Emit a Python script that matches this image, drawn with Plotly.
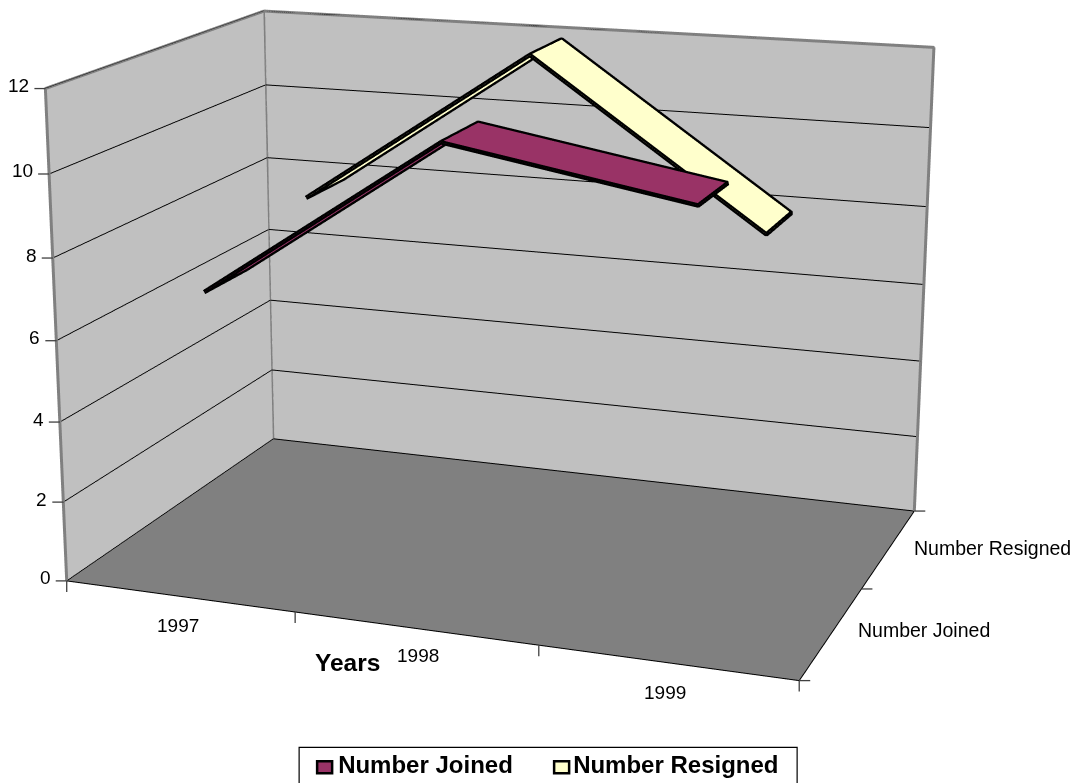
import numpy as np
import plotly.graph_objects as go

# ---------- data ----------
years = ["1997", "1998", "1999"]
series_names = ["Number Joined", "Number Resigned"]
number_joined = [7, 11, 10]
number_resigned = [8, 12, 8]
value_ticks = [0, 2, 4, 6, 8, 10, 12]
series_colors = ["#993366", "#FFFFCC"]

# ---------- camera calibration from the chart box corners ----------
WIN_W, WIN_H = 1078, 783
box_corners = {(0, 0, 0): (66, 581), (3, 0, 0): (799, 680), (3, 2, 0): (914, 511), (0, 2, 0): (274, 438),
               (0, 0, 12): (46, 88), (0, 2, 12): (263, 11), (3, 2, 12): (934, 47)}
X = np.array(list(box_corners.keys()), float) / np.array([3, 2, 12.0]) - 0.5
U = np.array(list(box_corners.values()), float)
rows = []
for (x, y, z), (u, v) in zip(X, U):
    rows.append([x, y, z, 1, 0, 0, 0, 0, -u * x, -u * y, -u * z, -u])
    rows.append([0, 0, 0, 0, x, y, z, 1, -v * x, -v * y, -v * z, -v])
P = np.linalg.svd(np.array(rows))[2][-1].reshape(3, 4)
if P[2, 3] < 0:
    P = -P
M = P[:3, :3]
a, b, c = [M[:, i][:2] / M[:, i][2] for i in range(3)]
pp = np.linalg.solve(np.array([b - c, a - c]), np.array([a @ (b - c), b @ (a - c)]))
f = np.sqrt(-(a - pp) @ (b - pp))
Kinv = np.linalg.inv(np.array([[f, 0, pp[0]], [0, f, pp[1]], [0, 0, 1]]))
C = Kinv @ M
lam = np.linalg.norm(C[:, 0])
asp = np.linalg.norm(C, axis=0) / lam
R = C / (lam * asp)
t = Kinv @ P[:, 3] / lam
eye = -R.T @ t
fwd, up = R[2], -R[1]
center = eye + fwd * t[2]

fig_h = int(round(2 * f * np.tan(np.pi / 8)))
half_w = int(np.ceil(max(pp[0], WIN_W - pp[0]))) + 10
fig_w = 2 * half_w
off_x = half_w - pp[0]
off_y = fig_h / 2 - pp[1]

def paper(u, v):
    return (u + off_x) / fig_w, 1 - (v + off_y) / fig_h

def pixel(x, y, z):
    h = P @ np.array([x / 3 - 0.5, y / 2 - 0.5, z / 12 - 0.5, 1.0])
    return h[0] / h[2], h[1] / h[2]

FONT = "Liberation Sans, Arial, sans-serif"
fig = go.Figure()

def ribbon(vals, idx, color):
    y0, y1 = idx + 0.3, idx + 0.7
    xs = [i + 0.5 for i in range(len(vals))]
    vx = xs + xs
    vy = [y0] * len(xs) + [y1] * len(xs)
    vz = list(vals) + list(vals)
    n = len(xs)
    i, j, k = [], [], []
    for q in range(n - 1):
        i += [q, q + 1]; j += [q + 1, q + 1 + n]; k += [q + n, q + n]
    fig.add_trace(go.Mesh3d(x=vx, y=vy, z=vz, i=i, j=j, k=k, color=color, opacity=1, flatshading=True,
                            lighting=dict(ambient=1, diffuse=0, specular=0, fresnel=0, roughness=1),
                            name=series_names[idx], showlegend=True, hoverinfo="skip"))
    ox, oy, oz = [], [], []
    for q in range(n - 1):
        ox += [xs[q], xs[q + 1], xs[q + 1], xs[q], xs[q], None]
        oy += [y0, y0, y1, y1, y0, None]
        oz += [vals[q], vals[q + 1], vals[q + 1], vals[q], vals[q], None]
    fig.add_trace(go.Scatter3d(x=ox, y=oy, z=oz, mode="lines", line=dict(color="black", width=9),
                               showlegend=False, hoverinfo="skip"))

nx, ny, nz = len(years), len(series_names), value_ticks[-1]
fig.add_trace(go.Scatter3d(x=[0, 0, 0, 0, None, 0, nx, nx], y=[0, 0, ny, ny, None, ny, ny, ny], z=[0, nz, nz, 0, None, nz, nz, 0],
                           mode="lines", line=dict(color="#808080", width=6), showlegend=False, hoverinfo="skip"))
fig.add_trace(go.Scatter3d(x=[0, nx, nx], y=[0, 0, ny], z=[0, 0, 0], mode="lines", line=dict(color="black", width=2),
                           showlegend=False, hoverinfo="skip"))
ribbon(number_joined, 0, series_colors[0])
ribbon(number_resigned, 1, series_colors[1])

anns = []
for v in value_ticks:
    anns.append(dict(x=0, y=0, z=v, text=str(v), showarrow=False, xanchor="right", xshift=-14, yshift=3,
                     font=dict(family=FONT, size=19, color="black")))
year_dx, year_dy = [-1, 3, -2], [-29, -27, -30]
for i, yr in enumerate(years):
    anns.append(dict(x=i + 0.5, y=0, z=0, text=yr, showarrow=False, yshift=year_dy[i], xshift=year_dx[i],
                     font=dict(family=FONT, size=19, color="black")))
series_dx, series_dy = [92, 104], [3, 1]
for i, nm in enumerate(series_names):
    anns.append(dict(x=nx, y=i + 0.5, z=0, text=nm, showarrow=False, xshift=series_dx[i], yshift=series_dy[i],
                     font=dict(family=FONT, size=19.5, color="black")))

def wall_axis(rng, bg):
    return dict(range=rng, ticks="", showticklabels=False, title="", showgrid=False, zeroline=False, showline=False,
                showbackground=True, backgroundcolor=bg, showspikes=False)

zax = wall_axis([0, nz], "#808080")
zax.update(tickvals=value_ticks, showgrid=True, gridcolor="black", gridwidth=2)
yax = wall_axis([0, ny], "#C0C0C0")
xax = wall_axis([0, nx], "#C0C0C0")

shapes = []
def seg(u0, v0, u1, v1, color="#404040", width=1.3):
    x0, y0 = paper(u0, v0); x1, y1 = paper(u1, v1)
    shapes.append(dict(type="line", xref="paper", yref="paper", x0=x0, y0=y0, x1=x1, y1=y1,
                       line=dict(color=color, width=width)))
def box(u0, v0, u1, v1, fill, width):
    x0, y0 = paper(u0, v0); x1, y1 = paper(u1, v1)
    shapes.append(dict(type="rect", xref="paper", yref="paper", x0=x0, y0=y0, x1=x1, y1=y1, fillcolor=fill,
                       line=dict(color="black", width=width)))
for v in value_ticks:
    u, w = pixel(0, 0, v); seg(u - 11, w, u, w)
for i in range(nx + 1):
    u, w = pixel(i, 0, 0); seg(u, w, u, w + 11)
for j in range(ny + 1):
    u, w = pixel(nx, j, 0); seg(u, w, u + 11, w)
box(299, 747, 797, 800, "white", 1.2)
box(317, 761, 332, 773, series_colors[0], 2.5)
box(554, 761, 569, 773, series_colors[1], 2.5)

ax_x, ax_y = paper(347, 662)
lx, ly = paper(298, 741)
fig.update_layout(
    width=fig_w, height=fig_h, margin=dict(l=0, r=0, t=0, b=0), paper_bgcolor="white", autosize=False,
    showlegend=True, shapes=shapes,
    legend=dict(orientation="h", x=lx, y=ly, xanchor="left", yanchor="top", borderwidth=0, itemwidth=30,
                entrywidth=190, entrywidthmode="pixels", bgcolor="rgba(0,0,0,0)",
                font=dict(family=FONT, size=24, color="black", weight="bold")),
    annotations=[dict(x=ax_x, y=ax_y, xref="paper", yref="paper", text="<b>Years</b>", showarrow=False,
                      font=dict(family=FONT, size=24.5, color="black"))],
    scene=dict(domain=dict(x=[0, 1], y=[0, 1]), aspectmode="manual",
               aspectratio=dict(x=float(asp[0]), y=float(asp[1]), z=float(asp[2])),
               camera=dict(eye=dict(x=float(eye[0]), y=float(eye[1]), z=float(eye[2])),
                           center=dict(x=float(center[0]), y=float(center[1]), z=float(center[2])),
                           up=dict(x=float(up[0]), y=float(up[1]), z=float(up[2])),
                           projection=dict(type="perspective")),
               xaxis=xax, yaxis=yax, zaxis=zax, annotations=anns, bgcolor="white"),
)
post = ("document.documentElement.style.overflow='hidden';document.body.style.overflow='hidden';document.body.style.margin='0';"
        "var s=document.createElement('style');s.textContent='.legendsymbols{display:none}.legend,.legend *{clip-path:none !important}';document.head.appendChild(s);"
        "var g=document.getElementById('{plot_id}');g.style.position='absolute';"
        f"g.style.left='{-off_x:.1f}px';g.style.top='{-off_y:.1f}px';")
fig.write_html("out.html", post_script=post, config=dict(displayModeBar=False))
